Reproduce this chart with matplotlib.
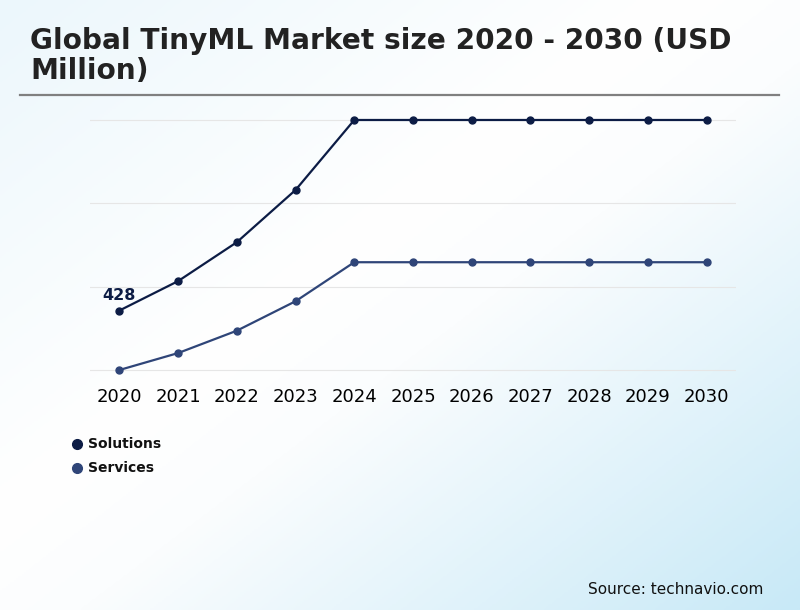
import numpy as np
import matplotlib
matplotlib.use("Agg")
import matplotlib.pyplot as plt
from matplotlib.colors import LinearSegmentedColormap
from matplotlib.lines import Line2D

plt.rcParams["font.family"] = ["DejaVu Sans"]

years = ["2020", "2021", "2022", "2023", "2024", "2025", "2026", "2027", "2028", "2029", "2030"]
solutions = [428, 640, 920, 1296, 1800, 1800, 1800, 1800, 1800, 1800, 1800]
services = [0, 122, 283, 495, 776, 776, 776, 776, 776, 776, 776]
series_names = ["Solutions", "Services"]
colors = ["#0c1c45", "#2f4578"]

fig = plt.figure(figsize=(8, 6.1), dpi=100)

# diagonal background gradient
bg = fig.add_axes([0, 0, 1, 1], zorder=-10)
xx, yy = np.meshgrid(np.linspace(0, 1, 400), np.linspace(0, 1, 300))
t = (xx + yy) / 2
cmap = LinearSegmentedColormap.from_list(
    "bg", [(0, "#ecf7fc"), (0.42, "#ffffff"), (0.55, "#fbfdfe"), (1, "#c8e9f7")])
bg.imshow(t, cmap=cmap, aspect="auto", extent=[0, 1, 0, 1], origin="upper")
bg.axis("off")

# title + rule
fig.text(30 / 800, 1 - 56 / 610, "Global TinyML Market size 2020 - 2030 (USD\nMillion)",
         fontsize=20.2, fontweight="bold", color="#222222", va="center", ha="left",
         linespacing=1.12)
fig.add_artist(Line2D([20 / 800, 779 / 800], [1 - 95 / 610, 1 - 95 / 610],
                      color="#808080", lw=1.6))

ax = fig.add_axes([90 / 800, 1 - 383.9 / 610, 646 / 800, (383.9 - 106.1) / 610])
ax.patch.set_alpha(0)
x = np.arange(len(years))
for vals, name, c in zip([solutions, services], series_names, colors):
    ax.plot(x, vals, color=c, lw=1.6, marker="o", markersize=5, label=name, zorder=3)

ax.set_xlim(-0.5, 10.5)
ax.set_ylim(-100, 1900)
ax.set_yticks([0, 600, 1200, 1800])
ax.yaxis.grid(True, color="#e6e6e6", lw=0.8)
ax.set_axisbelow(True)
ax.tick_params(axis="y", left=False, labelleft=False)
ax.tick_params(axis="x", length=0, labelsize=13, pad=3)
ax.set_xticks(x)
ax.set_xticklabels(years)
for s in ax.spines.values():
    s.set_visible(False)

ax.annotate(str(solutions[0]), (0, solutions[0]), xytext=(0, 10.5), textcoords="offset points",
            ha="center", va="center", fontsize=11.5, fontweight="bold", color=colors[0])

# legend
for i, (name, c) in enumerate(zip(series_names, colors)):
    yy_ = 1 - (444 + 24 * i) / 610
    fig.add_artist(Line2D([77 / 800], [yy_], marker="o", markersize=7, color=c, lw=0))
    fig.text(88 / 800, yy_, name, fontsize=10, fontweight="bold", color="#111111", va="center")

fig.text(763 / 800, 1 - 589 / 610, "Source: technavio.com", fontsize=11, color="#111111",
         ha="right", va="center")

fig.savefig("out.png", dpi=100)
